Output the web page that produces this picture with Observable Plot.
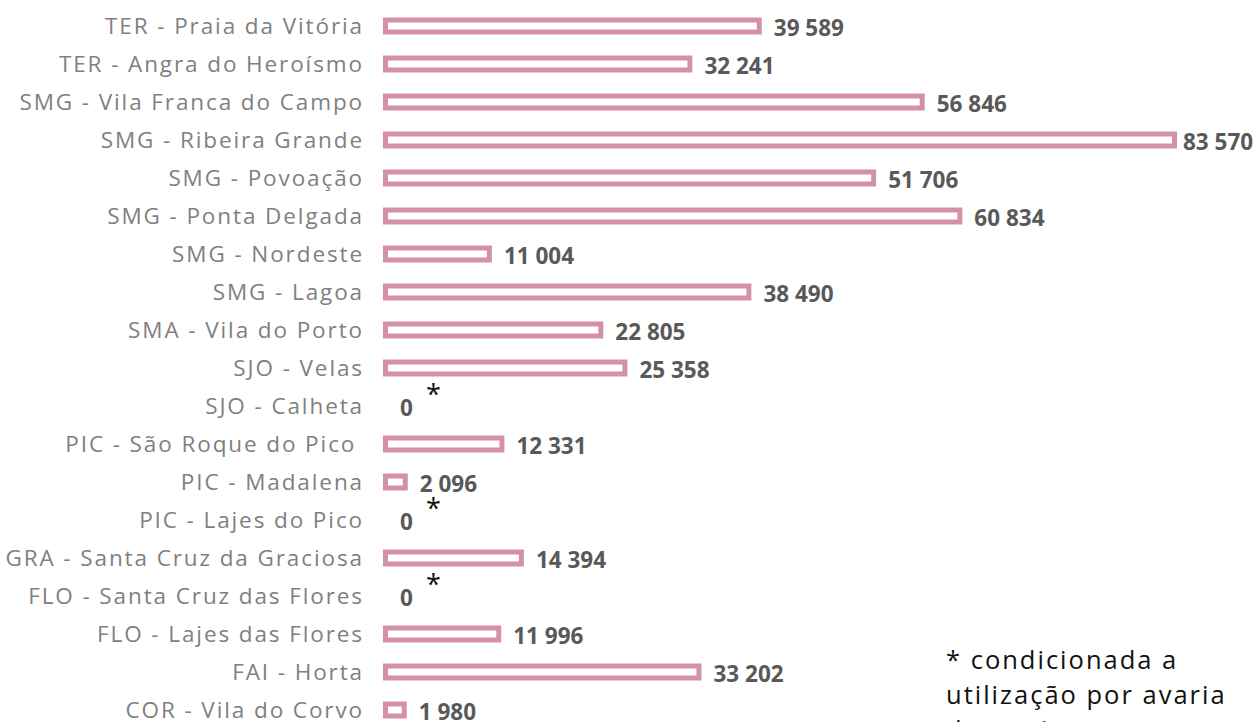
<!DOCTYPE html>
<html>
<head>
<meta charset="utf-8">
<script src="https://cdn.jsdelivr.net/npm/d3@7"></script>
<script src="https://cdn.jsdelivr.net/npm/@observablehq/plot@0.6"></script>
<style>
  html, body { margin: 0; padding: 0; background: #fff; overflow: hidden; }
  #wrap { position: relative; width: 1259px; height: 722px; }
  #note { position: absolute; left: 946px; top: 642px; font-family: "Open Sans", sans-serif; font-size: 25.5px; letter-spacing: 2px; line-height: 35px; color: #111; white-space: nowrap; }
  g[aria-label="y-axis tick label"] text { letter-spacing: 1.9px; }
</style>
</head>
<body>
<div id="wrap">
  <div id="chart"></div>
  <div id="note">* condicionada a<br>utilização por avaria<br>do equipamento</div>
</div>
<script>
const locations = [
  "TER - Praia da Vitória",
  "TER - Angra do Heroísmo",
  "SMG - Vila Franca do Campo",
  "SMG - Ribeira Grande",
  "SMG - Povoação",
  "SMG - Ponta Delgada",
  "SMG - Nordeste",
  "SMG - Lagoa",
  "SMA - Vila do Porto",
  "SJO - Velas",
  "SJO - Calheta",
  "PIC - São Roque do Pico\u00a0",
  "PIC - Madalena",
  "PIC - Lajes do Pico",
  "GRA - Santa Cruz da Graciosa",
  "FLO - Santa Cruz das Flores",
  "FLO - Lajes das Flores",
  "FAI - Horta",
  "COR - Vila do Corvo"
];
const values = [39589, 32241, 56846, 83570, 51706, 60834, 11004, 38490, 22805, 25358, 0, 12331, 2096, 0, 14394, 0, 11996, 33202, 1980];
const flagged = ["SJO - Calheta", "PIC - Lajes do Pico", "FLO - Santa Cruz das Flores"];

const data = locations.map((name, i) => ({name, value: values[i]}));
const maxValue = d3.max(values);
const fmt = v => d3.format(",")(v).replace(/,/g, " ");

const labelStyle = {textAnchor: "start", dy: 2, fontSize: 22.5, fontWeight: "bold", fill: "#595959"};

const chart = Plot.plot({
  width: 1259,
  height: 732,
  marginLeft: 385.5,
  marginRight: 84.5,
  marginTop: 3,
  marginBottom: 0,
  style: {fontFamily: "Open Sans, sans-serif", background: "#fff", overflow: "visible"},
  x: {domain: [0, maxValue], axis: null},
  y: {domain: locations, paddingInner: 0.686, paddingOuter: 0.343, label: null},
  marks: [
    Plot.axisY({tickSize: 0, tickPadding: 22, fontSize: 22.5, color: "#808080", label: null}),
    Plot.barX(data.filter(d => d.value > 0), {
      x: "value", y: "name", fill: "#fff", stroke: "#d491a6", strokeWidth: 5
    }),
    Plot.text(data.filter(d => d.value < maxValue), {
      x: "value", y: "name", text: d => fmt(d.value), dx: 14, ...labelStyle
    }),
    Plot.text(data.filter(d => d.value === maxValue), {
      x: "value", y: "name", text: d => fmt(d.value), dx: 8, ...labelStyle
    }),
    Plot.text(data.filter(d => flagged.includes(d.name)), {
      x: "value", y: "name", text: () => "*", textAnchor: "start",
      dx: 40, dy: -11, fontSize: 27, fill: "#111"
    })
  ]
});
document.getElementById("chart").appendChild(chart);
</script>
</body>
</html>
